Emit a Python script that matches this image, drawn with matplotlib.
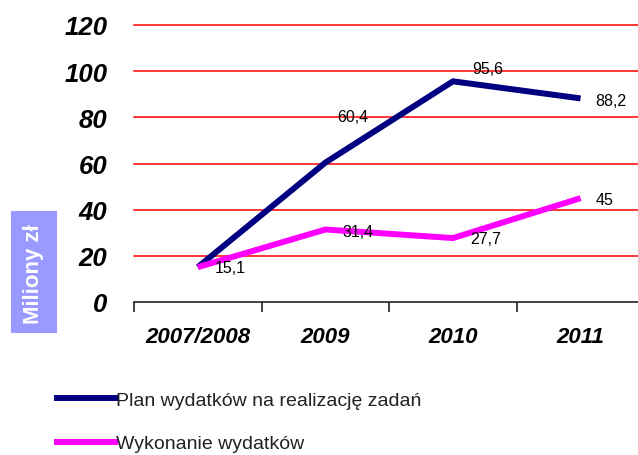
import matplotlib
matplotlib.use("Agg")
import matplotlib.pyplot as plt
from matplotlib.lines import Line2D
from matplotlib.patches import Rectangle
import numpy as np

categories = ["2007/2008", "2009", "2010", "2011"]
plan = [15.1, 60.4, 95.6, 88.2]
wykonanie = [15.1, 31.4, 27.7, 45]
plan_labels = ["", "60,4", "95,6", "88,2"]
wyk_labels = ["15,1", "31,4", "27,7", "45"]
yticks = [0, 20, 40, 60, 80, 100, 120]
series_names = ["Plan wydatków na realizację zadań", "Wykonanie wydatków"]

NAVY = "#000080"
MAGENTA = "#FF00FF"

plt.rcParams['font.family'] = ['Liberation Sans', 'DejaVu Sans']

fig = plt.figure(figsize=(6.38, 4.56), dpi=100)
ax = fig.add_axes([134/638, (456-303)/456, 504/638, (303-26)/456])

x = np.arange(len(categories))
ax.set_xlim(-0.5, 3.45)
ax.set_ylim(0, 120)

for y in yticks[1:]:
    ax.axhline(y, color="#FF0000", lw=1.1, zorder=1, clip_on=False)

ax.plot(x, plan, color=NAVY, lw=4.3, zorder=3, solid_capstyle='butt')
ax.plot(x, wykonanie, color=MAGENTA, lw=4.3, zorder=4, solid_capstyle='butt')

# data labels
plan_off = [(0, 0), (12, 46), (19, 13), (15, -2)]
wyk_off = [(17, 0), (17, -2), (17, 0), (15, -1)]
for i, (v, lab) in enumerate(zip(plan, plan_labels)):
    if lab:
        ax.annotate(lab, (x[i], v), xytext=plan_off[i], textcoords='offset pixels',
                    ha='left', va='center', fontsize=11.5, color='black', zorder=5)
for i, (v, lab) in enumerate(zip(wykonanie, wyk_labels)):
    ax.annotate(lab, (x[i], v), xytext=wyk_off[i], textcoords='offset pixels',
                ha='left', va='center', fontsize=11.5, color='black', zorder=5)

for s in ['top', 'right', 'left']:
    ax.spines[s].set_visible(False)
ax.spines['bottom'].set_color('#222222')
ax.spines['bottom'].set_linewidth(1.2)

ax.set_yticks(yticks)
ax.set_yticklabels([str(t) for t in yticks], fontsize=18.5, fontweight='bold', fontstyle='italic')
ax.tick_params(axis='y', length=0, pad=19)

ax.set_xticks(x)
ax.set_xticklabels(categories, fontsize=16, fontweight='bold', fontstyle='italic')
ax.set_xticks([-0.5, 0.5, 1.5, 2.5], minor=True)
ax.tick_params(axis='x', which='major', length=0, pad=17)
ax.tick_params(axis='x', which='minor', length=7, width=1.2, color='#222222', direction='out')

# y axis title box
fig.patches.append(Rectangle((11/638, (456-334)/456), 46/638, 122/456,
                             transform=fig.transFigure, facecolor="#9999FF",
                             edgecolor='none', zorder=0))
fig.text(34/638, (456-274)/456, "Miliony zł", rotation=90, color='white',
         fontsize=16, fontweight='bold', ha='center', va='center')

handles = [Line2D([], [], color=NAVY, lw=4.3), Line2D([], [], color=MAGENTA, lw=4.3)]
fig.legend(handles, series_names, loc='upper left', bbox_to_anchor=(57/638, (456-392)/456),
           frameon=False, fontsize=14, handlelength=3.0, handletextpad=0.02,
           labelspacing=1.35, borderpad=0, borderaxespad=0, labelcolor='#222222')

fig.savefig("out.png", dpi=100)
